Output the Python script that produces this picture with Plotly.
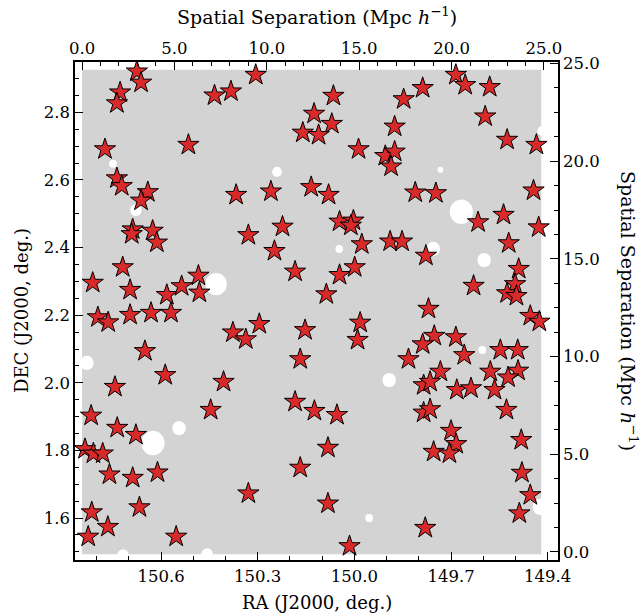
import plotly.graph_objects as go

# Galaxy/star positions (RA, DEC in degrees)
ra = [150.675, 150.662, 150.727, 150.737, 150.434, 150.383, 150.306, 150.774, 150.515, 150.737,
      150.722, 150.641, 150.662, 150.367, 150.259, 150.688, 150.691, 150.626, 150.613, 150.329,
      150.223, 150.248, 150.812, 150.719, 150.696, 150.582, 150.536, 150.484, 150.481, 150.184,
      149.685, 149.656, 149.580, 149.788, 149.847, 150.065, 149.594, 150.125, 150.070, 150.160,
      150.111, 149.875, 149.526, 149.435, 149.987, 149.904, 149.875, 149.886, 150.134, 150.080,
      149.811, 149.747, 149.444, 149.537, 149.616, 149.428, 150.046, 150.003, 150.011, 149.977,
      149.889, 149.852, 149.521, 149.778, 149.999, 150.046, 149.490, 149.501, 149.526, 149.497,
      150.087, 149.630, 149.770, 150.796, 150.764, 150.696, 150.631, 150.569, 150.377, 150.337,
      150.295, 150.153, 150.650, 150.168, 150.587, 150.406, 150.743, 150.184, 150.446, 150.817,
      150.736, 150.678, 150.836, 150.810, 150.781, 150.760, 150.688, 150.611, 150.168, 150.329,
      150.815, 150.667, 150.765, 150.826, 150.553, 149.454, 149.426, 149.982, 149.990, 149.752,
      149.788, 149.685, 149.659, 149.547, 149.493, 149.832, 149.733, 149.578, 149.492, 149.523,
      149.785, 149.765, 149.682, 149.638, 149.565, 150.124, 150.054, 149.785, 149.765, 149.528,
      149.700, 149.684, 149.754, 149.705, 149.482, 150.082, 149.480, 149.454, 150.082, 149.488,
      149.780, 150.015]
dec = [2.921, 2.888, 2.859, 2.827, 2.850, 2.862, 2.911, 2.691, 2.704, 2.605,
       2.582, 2.564, 2.539, 2.556, 2.566, 2.454, 2.440, 2.450, 2.415, 2.437,
       2.462, 2.390, 2.296, 2.342, 2.275, 2.260, 2.286, 2.317, 2.267, 2.329,
       2.911, 2.881, 2.875, 2.872, 2.839, 2.849, 2.788, 2.796, 2.766, 2.740,
       2.733, 2.758, 2.719, 2.704, 2.691, 2.671, 2.684, 2.640, 2.579, 2.556,
       2.563, 2.561, 2.569, 2.497, 2.475, 2.460, 2.477, 2.480, 2.465, 2.410,
       2.418, 2.418, 2.413, 2.376, 2.342, 2.319, 2.337, 2.292, 2.265, 2.257,
       2.262, 2.287, 2.219, 2.194, 2.179, 2.201, 2.207, 2.207, 2.149, 2.129,
       2.174, 2.156, 2.094, 2.070, 2.023, 2.003, 1.988, 1.944, 1.920, 1.903,
       1.867, 1.846, 1.804, 1.791, 1.791, 1.729, 1.719, 1.735, 1.749, 1.673,
       1.617, 1.632, 1.574, 1.545, 1.545, 2.198, 2.181, 2.178, 2.127, 2.139,
       2.114, 2.135, 2.082, 2.097, 2.097, 2.070, 2.033, 2.033, 2.036, 2.016,
       1.993, 2.003, 1.979, 1.984, 1.979, 1.917, 1.905, 1.912, 1.922, 1.920,
       1.858, 1.819, 1.796, 1.791, 1.831, 1.808, 1.734, 1.668, 1.643, 1.614,
       1.571, 1.517]

# Survey footprint (RA min/max, DEC min/max)
field_ra = [150.845, 149.420]
field_dec = [1.493, 2.926]

# Masked regions (centre RA, DEC and radius in deg)
mask_ra = [150.749, 150.240, 150.678, 150.429, 149.417, 149.733, 149.668, 150.047, 149.755, 149.597,
           150.830, 150.544, 150.625, 150.718, 150.457, 149.603, 149.892, 149.954, 149.423]
mask_dec = [2.648, 2.624, 2.511, 2.292, 2.745, 2.630, 2.506, 2.396, 2.396, 2.363,
            2.059, 1.866, 1.822, 1.490, 1.493, 2.097, 2.008, 1.600, 1.633]
mask_r = [0.012, 0.015, 0.018, 0.033, 0.015, 0.009, 0.036, 0.012, 0.021, 0.021,
          0.021, 0.021, 0.036, 0.018, 0.018, 0.012, 0.021, 0.012, 0.024]

ra_ticks = [150.6, 150.3, 150.0, 149.7, 149.4]
dec_ticks = [1.6, 1.8, 2.0, 2.2, 2.4, 2.6, 2.8]
sep_ticks = [0, 5, 10, 15, 20, 25]
sep_labels = ["0.0", "5.0", "10.0", "15.0", "20.0", "25.0"]

FONT = "DejaVu Serif"

fig = go.Figure()
fig.add_trace(go.Scatter(
    x=ra, y=dec, mode="markers",
    marker=dict(symbol="star", size=16, color="#d82a2a",
                line=dict(color="black", width=1)),
    hoverinfo="skip", showlegend=False))
fig.add_trace(go.Scatter(
    x=[0, 25], y=[0, 25], xaxis="x2", yaxis="y2", mode="markers",
    marker=dict(opacity=0), hoverinfo="skip", showlegend=False))

shapes = [dict(type="rect", xref="x", yref="y", x0=field_ra[0], x1=field_ra[1],
               y0=field_dec[0], y1=field_dec[1], fillcolor="#d3d3d3",
               line=dict(width=0), layer="below")]
for cx, cy, r in zip(mask_ra, mask_dec, mask_r):
    shapes.append(dict(type="circle", xref="x", yref="y", x0=cx - r, x1=cx + r,
                       y0=cy - r, y1=cy + r, fillcolor="white",
                       line=dict(width=0), layer="below"))

axis_common = dict(showgrid=False, zeroline=False, showline=True, linecolor="black",
                   linewidth=1.5, ticks="inside", ticklen=8, tickwidth=1,
                   tickcolor="black", tickfont=dict(family=FONT, size=16.5, color="black"))

title_font = dict(family=FONT, size=18, color="black")
sep_font = dict(family=FONT, size=19, color="black")

fig.update_layout(
    width=643, height=615, autosize=False,
    margin=dict(l=75, r=85, t=62, b=55),
    paper_bgcolor="white", plot_bgcolor="white",
    shapes=shapes,
    xaxis=dict(range=[150.867, 149.368], tickvals=ra_ticks, tickformat=".1f",
               minor=dict(ticks="inside", ticklen=4, dtick=0.1, tick0=150.0,
                          tickcolor="black"), **axis_common),
    yaxis=dict(range=[1.476, 2.949], tickvals=dec_ticks, tickformat=".1f",
               minor=dict(ticks="inside", ticklen=4, dtick=0.05, tick0=1.6,
                          tickcolor="black"), **axis_common),
    xaxis2=dict(overlaying="x", side="top", anchor="y", range=[-0.38, 25.76],
                tickvals=sep_ticks, ticktext=sep_labels,
                minor=dict(ticks="inside", ticklen=4, dtick=1, tick0=0,
                           tickcolor="black"), **axis_common),
    yaxis2=dict(overlaying="y", side="right", anchor="x", range=[-0.41, 25.08],
                tickvals=sep_ticks, ticktext=sep_labels,
                minor=dict(ticks="inside", ticklen=4, dtick=1.25, tick0=0,
                           tickcolor="black"), **axis_common),
    annotations=[
        dict(text="RA (J2000, deg.)", xref="paper", yref="paper", x=0.5, y=0,
             xanchor="center", yanchor="middle", yshift=-42, showarrow=False,
             font=title_font),
        dict(text="DEC (J2000, deg.)", xref="paper", yref="paper", x=0, y=0.5,
             xanchor="center", yanchor="middle", xshift=-54, textangle=-90,
             showarrow=False, font=title_font),
        dict(text="Spatial Separation (Mpc <i>h</i><sup>−1</sup>)", xref="paper",
             yref="paper", x=0.5, y=1, xanchor="center", yanchor="middle", yshift=46,
             showarrow=False, font=sep_font),
        dict(text="Spatial Separation (Mpc <i>h</i><sup>−1</sup>)", xref="paper",
             yref="paper", x=1, y=0.5, xanchor="center", yanchor="middle", xshift=71,
             textangle=90, showarrow=False, font=sep_font),
    ],
)

fig.write_html("out.html")
